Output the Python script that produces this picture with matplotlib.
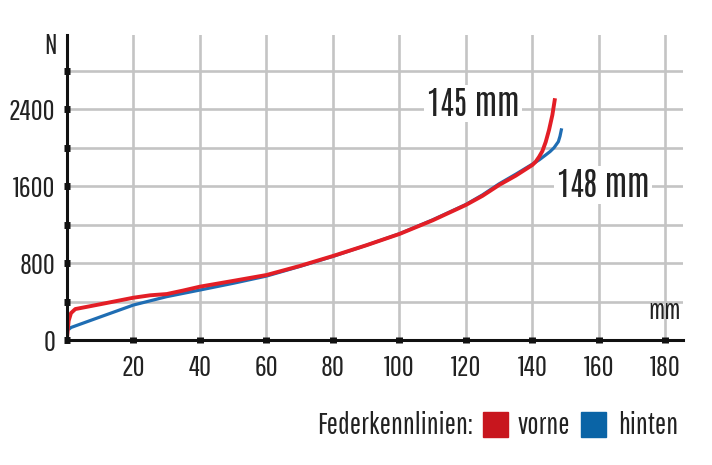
import matplotlib
matplotlib.use("Agg")
import matplotlib.pyplot as plt

# ---- data ----
vorne_x = [0, 0.5, 1.2, 2.5, 10, 20, 25, 30, 35, 40, 50, 60, 70, 80, 90, 100,
           110, 120, 125, 130, 135, 140, 141, 142, 143, 144, 145, 146, 146.8]
vorne_y = [20, 200, 280, 322, 372, 440, 465, 478, 515, 555, 615, 676, 770, 874, 985, 1103,
           1245, 1405, 1500, 1613, 1710, 1821, 1855, 1905, 1965, 2060, 2185, 2340, 2515]

hinten_x = [0.5, 1.2, 10, 20, 30, 40, 50, 60, 70, 80, 90, 100, 110, 120, 125, 130,
            135, 140, 142, 144, 145.3, 146.5, 147.8, 148.3, 148.8]
hinten_y = [110, 130, 240, 364, 451, 520, 590, 665, 765, 870, 985, 1105, 1250, 1410, 1510, 1625,
            1725, 1830, 1873, 1925, 1960, 2000, 2063, 2120, 2202]

x_ticks = [20, 40, 60, 80, 100, 120, 140, 160, 180]
y_ticks = [0, 400, 800, 1200, 1600, 2000, 2400, 2800]
y_labels = ["0", "", "800", "", "1600", "", "2400", ""]

label_vorne = "145 mm"
label_hinten = "148 mm"
legend_title = "Federkennlinien:"
legend_names = ["vorne", "hinten"]

RED = "#e31e26"
BLUE = "#1f6db3"
RED_SQ = "#c8161e"
BLUE_SQ = "#0a64a6"
GRID = "#c4c4c4"
TXT = "#222222"

FONT = ["Pathway Gothic One", "Sofia Sans Extra Condensed", "DejaVu Sans"]
BFONT = ["Antonio", "Fjalla One", "DejaVu Sans"]
plt.rcParams["font.family"] = FONT

fig = plt.figure(figsize=(7.12, 4.65), dpi=100)
W, H = 712, 465
ax = fig.add_axes([67 / W, (H - 340) / H, (683 - 67) / W, (340 - 35) / H])
ax.set_xlim(0, 185.3)
ax.set_ylim(0, 3173)

for xv in x_ticks:
    ax.axvline(xv, color=GRID, lw=1.9, zorder=1)
for yv in y_ticks[1:]:
    ax.axhline(yv, color=GRID, lw=1.9, zorder=1)

ax.plot(hinten_x, hinten_y, color=BLUE, lw=2.3, zorder=3, solid_capstyle="butt")
ax.plot(vorne_x, vorne_y, color=RED, lw=2.8, zorder=4, solid_capstyle="butt")

for s in ["top", "right"]:
    ax.spines[s].set_visible(False)
for s in ["left", "bottom"]:
    ax.spines[s].set_linewidth(2.2)
    ax.spines[s].set_color("#111111")
    ax.spines[s].set_zorder(5)

ax.set_xticks(x_ticks)
ax.set_xticklabels([str(v) for v in x_ticks])
ax.set_yticks(y_ticks)
ax.set_yticklabels(y_labels)
ax.tick_params(axis="both", direction="inout", length=5, width=5, color="#111111",
               labelsize=21, labelcolor=TXT)
ax.tick_params(axis="x", pad=8)
ax.tick_params(axis="y", pad=6)

# axis unit labels
fig.text(50 / W, 1 - 46 / H, "N", fontsize=20, color=TXT, ha="center", va="center")
fig.text(681 / W, 1 - 311 / H, "mm", fontsize=20, color=TXT, ha="right", va="center")

# curve labels
ax.text(108.3, 2460, label_vorne, fontsize=23, fontweight="bold", family=BFONT, color=TXT,
        ha="left", va="center", zorder=6,
        bbox=dict(facecolor="white", edgecolor="none", pad=2))
ax.text(147.4, 1613, label_hinten, fontsize=23, fontweight="bold", family=BFONT, color=TXT,
        ha="left", va="center", zorder=6,
        bbox=dict(facecolor="white", edgecolor="none", pad=2))

# legend
ly = 1 - 425 / H
fig.text(317 / W, ly, legend_title, fontsize=21.5, color=TXT, ha="left", va="center")
fig.patches.append(plt.Rectangle((483 / W, 1 - 437 / H), 25 / W, 25 / H,
                                 transform=fig.transFigure, color=RED_SQ))
fig.text(518 / W, ly, legend_names[0], fontsize=21.5, color=TXT, ha="left", va="center")
fig.patches.append(plt.Rectangle((581 / W, 1 - 437 / H), 25 / W, 25 / H,
                                 transform=fig.transFigure, color=BLUE_SQ))
fig.text(618 / W, ly, legend_names[1], fontsize=21.5, color=TXT, ha="left", va="center")

fig.savefig("out.png", dpi=100)
